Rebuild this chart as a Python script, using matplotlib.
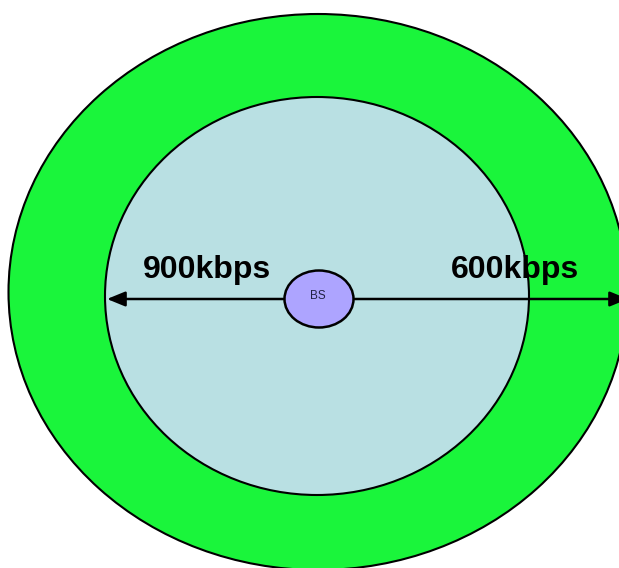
import matplotlib
matplotlib.use("Agg")
import matplotlib.pyplot as plt
from matplotlib.patches import Ellipse

# cell layout (pixel space of the picture)
zone_names = ["outer", "inner"]
zone_centers = [(318, 292), (317, 296)]
zone_sizes = [(619, 556), (424, 398)]
zone_colors = ["#1af53b", "#b9e0e3"]

bs_label = "BS"
bs_center = (319, 299)
bs_size = (69, 57)

rate_labels = ["900kbps", "600kbps"]
rate_pos = [(207, 270), (515, 270)]
arrow_y = 299
arrow_ends = [107, 628]

fig = plt.figure(figsize=(6.19, 5.68), dpi=100)
ax = fig.add_axes([0, 0, 1, 1])
ax.set_xlim(0, 619)
ax.set_ylim(568, 0)
ax.axis("off")

for c, s, col in zip(zone_centers, zone_sizes, zone_colors):
    ax.add_patch(Ellipse(c, s[0], s[1], facecolor=col, edgecolor="black", lw=1.5))

# arrows out from the base station
for x_end in arrow_ends:
    ax.annotate("", xy=(x_end, arrow_y), xytext=(bs_center[0], arrow_y),
                annotation_clip=False,
                arrowprops=dict(arrowstyle="-|>,head_length=1.1,head_width=0.45",
                                color="black", lw=1.8, shrinkA=0, shrinkB=0))

ax.add_patch(Ellipse(bs_center, bs_size[0], bs_size[1], facecolor="#ada4ff",
                     edgecolor="black", lw=1.8, zorder=5))
ax.text(bs_center[0] - 1, bs_center[1] - 3, bs_label, ha="center", va="center",
        fontsize=8.5, family="Liberation Sans", color="#222244", zorder=6)

for lab, p in zip(rate_labels, rate_pos):
    ax.text(p[0], p[1], lab, ha="center", va="center", fontsize=23,
            fontweight="bold", family="Liberation Sans", zorder=6)

fig.savefig("out.png", dpi=100)
